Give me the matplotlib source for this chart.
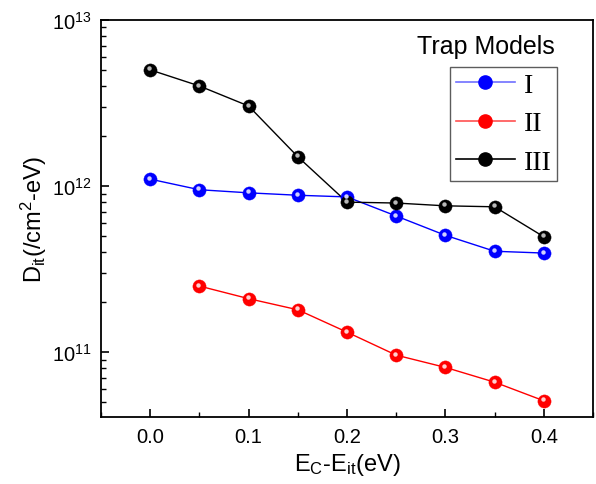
import matplotlib
matplotlib.use("Agg")
import matplotlib.pyplot as plt
from matplotlib.ticker import LogLocator, MultipleLocator, NullFormatter
from matplotlib.lines import Line2D
from matplotlib.transforms import offset_copy

plt.rcParams['font.family'] = ['Liberation Sans', 'DejaVu Sans']
plt.rcParams['mathtext.fontset'] = 'custom'
plt.rcParams['mathtext.rm'] = 'Liberation Sans'
plt.rcParams['mathtext.it'] = 'Liberation Sans'

energy_I = [0.0, 0.05, 0.10, 0.15, 0.20, 0.25, 0.30, 0.35, 0.40]
dit_I = [1.1e12, 9.5e11, 9.1e11, 8.8e11, 8.6e11, 6.6e11, 5.05e11, 4.05e11, 3.95e11]

energy_II = [0.05, 0.10, 0.15, 0.20, 0.25, 0.30, 0.35, 0.40]
dit_II = [2.5e11, 2.1e11, 1.8e11, 1.32e11, 9.6e10, 8.1e10, 6.6e10, 5.1e10]

energy_III = [0.0, 0.05, 0.10, 0.15, 0.20, 0.25, 0.30, 0.35, 0.40]
dit_III = [5.0e12, 4.0e12, 3.03e12, 1.5e12, 8.0e11, 7.9e11, 7.6e11, 7.5e11, 4.95e11]

labels = ['I', 'II', 'III']
colors = ['#0000ff', '#ff0000', '#000000']
highlights = ['#d0d0ff', '#ffd0d0', '#b8b8b8']
legend_line_colors = ['#7070ff', '#ff5050', '#000000']

fig = plt.figure(figsize=(5.96, 4.85), dpi=100)
ax = fig.add_axes([0.1695, 0.138, 0.8255, 0.819])

hl_trans = offset_copy(ax.transData, fig=fig, x=-0.8, y=1.0, units='points')

series = [(energy_I, dit_I), (energy_II, dit_II), (energy_III, dit_III)]
handles = []
for (x, y), c, h, lc, lab in zip(series, colors, highlights, legend_line_colors, labels):
    ax.plot(x, y, '-', color=c, lw=1.0, zorder=2)
    ax.plot(x, y, 'o', color=c, ms=9.5, mec=c, mew=0.3, zorder=3)
    ax.plot(x, y, 'o', color=h, ms=3.2, mec='none', zorder=4, transform=hl_trans)
    handles.append(Line2D([], [], color=lc, lw=1.2, marker='o', ms=9.5,
                          mfc=c, mec=c, label=lab))

ax.set_yscale('log')
ax.set_xlim(-0.05, 0.45)
ax.set_ylim(4.07e10, 1e13)
ax.xaxis.set_major_locator(MultipleLocator(0.1))
ax.xaxis.set_minor_locator(MultipleLocator(0.05))
ax.xaxis.set_major_formatter(plt.FuncFormatter(lambda v, p: f"{v:.1f}"))
ax.yaxis.set_major_locator(LogLocator(base=10, numticks=10))
ax.yaxis.set_minor_locator(LogLocator(base=10, subs=range(2, 10), numticks=20))
ax.yaxis.set_minor_formatter(NullFormatter())

ax.tick_params(which='major', direction='in', length=6, width=1.2, labelsize=14.5,
               top=False, right=False, pad=7)
ax.tick_params(which='minor', direction='in', length=3.5, width=1.0,
               top=False, right=False)
for s in ax.spines.values():
    s.set_linewidth(1.3)

ax.set_xlabel('E$_\\mathregular{C}$-E$_\\mathregular{it}$(eV)', fontsize=17, labelpad=4)
ax.set_ylabel('D$_\\mathregular{it}$(/cm$^\\mathregular{2}$-eV)', fontsize=17, labelpad=2)

fig.text(486 / 596, 1 - 47 / 485, 'Trap Models', fontsize=18, ha='center', va='center')
leg = fig.legend(handles=handles, loc='upper left',
                 bbox_to_anchor=(450 / 596, 1 - 68 / 485),
                 prop={'family': 'Liberation Serif', 'size': 20}, frameon=True,
                 fancybox=False, edgecolor='#333333', handlelength=2.15,
                 handletextpad=0.3, borderpad=0.2, labelspacing=0.47,
                 borderaxespad=0)
leg.get_frame().set_linewidth(1.0)

fig.savefig('out.png', dpi=100)
